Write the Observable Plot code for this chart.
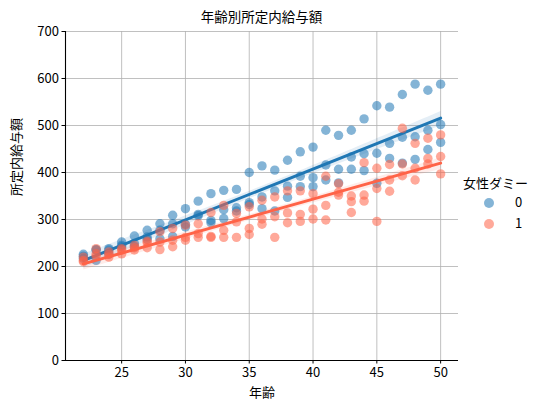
<!DOCTYPE html>
<html>
<head>
<meta charset="utf-8">
<script src="https://cdn.jsdelivr.net/npm/d3@7"></script>
<script src="https://cdn.jsdelivr.net/npm/@observablehq/plot@0.6"></script>
<style>
  html, body { margin: 0; padding: 0; background: #fff; }
  #wrap { position: relative; width: 546px; height: 411px; font-family: "Noto Sans CJK JP", "Noto Sans", sans-serif; color: #000; }
  #title { position: absolute; left: 65px; width: 393px; top: 7px; text-align: center; font-size: 13.5px; line-height: 18px; }
  #chart { position: absolute; left: 0; top: 24px; }
  #chart svg { overflow: visible; }
  #legend { position: absolute; left: 463px; top: 174px; font-size: 13px; }
  .lg-title { line-height: 18px; }
  .lg-row { position: relative; height: 21px; }
  .lg-dot { position: absolute; left: 21px; top: 6px; width: 10px; height: 10px; border-radius: 50%; }
  .lg-lab { position: absolute; left: 52px; top: 1px; line-height: 18px; }
</style>
</head>
<body>
<div id="wrap">
  <div id="title"></div>
  <div id="chart"></div>
  <div id="legend"></div>
</div>
<script>
const titleText = "年齢別所定内給与額";
const xLabel = "年齢";
const yLabel = "所定内給与額";
const legendTitle = "女性ダミー";
const groups = ["0", "1"];
const colors = ["#1f77b4", "#ff6347"];

const ages = [22,23,24,25,26,27,28,29,30,31,32,33,34,35,36,37,38,39,40,41,42,43,44,45,46,47,48,49,50];
const maleHigh = [226,236,238,252,265,277,291,309,323,339,355,362,364,400,414,405,426,444,454,490,479,490,514,542,539,566,588,575,588];
const maleMid  = [222,235,235,245,249,263,277,291,290,311,298,321,325,336,348,361,371,392,389,416,407,433,440,441,462,475,476,490,502];
const maleLow  = [217,213,226,242,242,258,259,264,284,308,293,302,318,332,323,318,347,370,370,384,378,407,404,377,430,420,428,449,464];
const femaleHigh = [220,238,231,238,245,254,274,281,288,291,315,330,313,327,341,348,361,361,355,392,376,350,421,409,417,494,462,473,480];
const femaleMid  = [213,227,226,235,240,251,252,256,262,270,264,277,295,281,301,306,314,311,322,330,358,338,352,366,384,418,409,430,434];
const femaleLow  = [210,222,220,227,235,240,236,242,256,262,262,262,262,268,290,262,293,296,301,299,352,315,339,296,360,393,384,418,397];
const yTicks = [0,100,200,300,400,500,600,700];
const xTicks = [25,30,35,40,45,50];

const rows = [];
[[maleHigh, "0"], [maleMid, "0"], [maleLow, "0"], [femaleHigh, "1"], [femaleMid, "1"], [femaleLow, "1"]]
  .forEach(([arr, g]) => arr.forEach((v, i) => rows.push({age: ages[i], wage: v, f: g})));
const male = rows.filter(d => d.f === "0");
const female = rows.filter(d => d.f === "1");

const pad = (d3.max(ages) - d3.min(ages)) * 0.05;
const xDomain = [d3.min(ages) - pad, d3.max(ages) + pad];

document.getElementById("title").textContent = titleText;

const plot = Plot.plot({
  width: 546,
  height: 387,
  marginLeft: 65,
  marginRight: 88,
  marginTop: 7,
  marginBottom: 51,
  style: {fontFamily: '"Noto Sans CJK JP", "Noto Sans", sans-serif', fontSize: "13px", background: "#fff", color: "#000", overflow: "visible"},
  x: {domain: xDomain, ticks: xTicks},
  y: {domain: [0, 700], ticks: yTicks},
  color: {domain: groups, range: colors},
  marks: [
    Plot.gridX(xTicks, {stroke: "#b0b0b0", strokeOpacity: 1, strokeWidth: 0.8}),
    Plot.gridY(yTicks, {stroke: "#b0b0b0", strokeOpacity: 1, strokeWidth: 0.8}),
    Plot.dot(male, {x: "age", y: "wage", r: 4.7, fill: colors[0], fillOpacity: 0.55}),
    Plot.linearRegressionY(male, {x: "age", y: "wage", stroke: colors[0], strokeWidth: 3, ci: 0.95, fillOpacity: 0.12}),
    Plot.dot(female, {x: "age", y: "wage", r: 4.7, fill: colors[1], fillOpacity: 0.55}),
    Plot.linearRegressionY(female, {x: "age", y: "wage", stroke: colors[1], strokeWidth: 3, ci: 0.95, fillOpacity: 0.12}),
    Plot.ruleY([0], {stroke: "#000", strokeWidth: 1.1}),
    Plot.ruleX([xDomain[0]], {stroke: "#000", strokeWidth: 1.1}),
    Plot.axisX(xTicks, {tickSize: 3.5, tickPadding: 4, label: null, fontSize: 13, stroke: "#000"}),
    Plot.axisY(yTicks, {tickSize: 3.5, tickPadding: 3, label: null, fontSize: 13, stroke: "#000"}),
    Plot.text([xLabel], {frameAnchor: "bottom", dy: 36, fontSize: 13, text: d => d}),
    Plot.text([yLabel], {frameAnchor: "left", dx: -49, rotate: -90, fontSize: 13, text: d => d})
  ]
});
document.getElementById("chart").appendChild(plot);

const lg = document.getElementById("legend");
const t = document.createElement("div");
t.className = "lg-title";
t.textContent = legendTitle;
lg.appendChild(t);
groups.forEach((g, i) => {
  const row = document.createElement("div");
  row.className = "lg-row";
  const dot = document.createElement("div");
  dot.className = "lg-dot";
  dot.style.background = colors[i];
  dot.style.opacity = 0.55;
  const lab = document.createElement("div");
  lab.className = "lg-lab";
  lab.textContent = g;
  row.appendChild(dot);
  row.appendChild(lab);
  lg.appendChild(row);
});
</script>
</body>
</html>
